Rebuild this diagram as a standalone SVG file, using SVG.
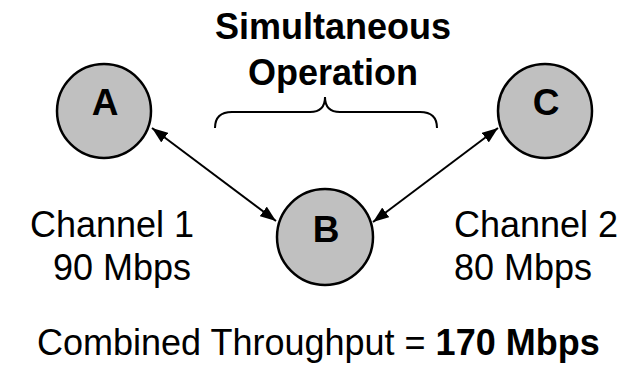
<svg xmlns="http://www.w3.org/2000/svg" width="635" height="369" viewBox="0 0 635 369">
  <style>
    .node circle { fill: #c0c0c0; stroke: #000; stroke-width: 2.5; }
    .node text { font-family: "Liberation Sans", Arial, sans-serif; font-weight: bold; font-size: 37px; text-anchor: middle; fill: #000; }
    .label { font-family: "Liberation Sans", Arial, sans-serif; font-size: 36px; fill: #000; }
    .title { font-family: "Liberation Sans", Arial, sans-serif; font-weight: bold; font-size: 36px; text-anchor: middle; fill: #000; }
    .link { stroke: #000; stroke-width: 2; fill: none; }
  </style>
  <defs>
    <marker id="head" viewBox="0 0 16 12" refX="16" refY="6" markerWidth="16" markerHeight="12" markerUnits="userSpaceOnUse" orient="auto-start-reverse">
      <path d="M0,0 L16,6 L0,12 z" fill="#000"/>
    </marker>
  </defs>
  <rect width="635" height="369" fill="#fff"/>

  <!-- bidirectional links and the brace over them -->
  <g id="connectors">
    <line class="link" x1="152" y1="128" x2="276" y2="221" marker-start="url(#head)" marker-end="url(#head)"/>
    <line class="link" x1="498" y1="128" x2="373" y2="222" marker-start="url(#head)" marker-end="url(#head)"/>
    <path class="link" d="M215,128 Q215,112 232,112 L310,112 Q325,112 325,97 Q325,112 340,112 L420,112 Q437,112 437,128"/>
  </g>

  <g id="node-A" class="node">
    <circle cx="104" cy="111" r="47"/>
    <text x="105" y="115">A</text>
  </g>
  <g id="node-B" class="node">
    <circle cx="325" cy="237" r="48"/>
    <text x="326" y="242">B</text>
  </g>
  <g id="node-C" class="node">
    <circle cx="545" cy="111" r="47"/>
    <text x="546" y="115">C</text>
  </g>

  <g id="labels">
    <text class="title" x="333" y="39">Simultaneous</text>
    <text class="title" x="333" y="85">Operation</text>
    <text class="label" x="30" y="237">Channel 1</text>
    <text class="label" x="53" y="280">90 Mbps</text>
    <text class="label" x="454" y="237">Channel 2</text>
    <text class="label" x="454" y="280">80 Mbps</text>
    <text class="label" x="37" y="355">Combined Throughput = <tspan font-weight="bold">170 Mbps</tspan></text>
  </g>
</svg>
